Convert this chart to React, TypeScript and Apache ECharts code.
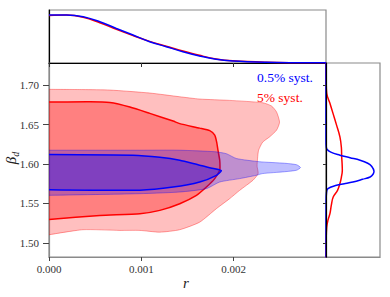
import React, { useEffect, useRef } from "react";
import * as echarts from "echarts";

// ---- Data ----
// Axis ticks
const rTicks = [0, 0.001, 0.002];
const betaTicks = [1.5, 1.55, 1.6, 1.65, 1.7];

// Top marginal: posterior of r
const rGrid = [0, 0.00019, 0.00037, 0.00055, 0.00073, 0.00091, 0.00109, 0.00127, 0.00145, 0.00163, 0.00181, 0.00199, 0.00235, 0.00271, 0.003];
const rBlue = [1.0, 1.0, 0.965, 0.86, 0.72, 0.583, 0.444, 0.34, 0.235, 0.146, 0.077, 0.042, 0.015, 0.006, 0.003];
const rRed = [0.99, 1.0, 0.955, 0.84, 0.7, 0.57, 0.45, 0.35, 0.25, 0.16, 0.085, 0.045, 0.015, 0.006, 0.003];

// Right marginal: posterior of beta_d
const betaGridBlue = [1.7284, 1.6301, 1.6225, 1.6187, 1.6149, 1.6111, 1.6079, 1.6047, 1.6009, 1.5971, 1.5907, 1.5869, 1.5835, 1.5805, 1.5771, 1.5748, 1.5729, 1.5687, 1.5627, 1.5538, 1.4813];
const betaBlue = [0, 0, 0.005, 0.02, 0.1, 0.29, 0.5, 0.71, 0.87, 0.95, 1.0, 0.98, 0.92, 0.76, 0.56, 0.38, 0.22, 0.04, 0.01, 0.003, 0];
const betaGridRed = [1.7284, 1.7065, 1.6896, 1.6772, 1.6641, 1.6492, 1.6343, 1.6212, 1.6089, 1.6009, 1.592, 1.5831, 1.5751, 1.5665, 1.558, 1.5475, 1.5373, 1.5284, 1.5199, 1.5029, 1.4813];
const betaRed = [0, 0.003, 0.015, 0.08, 0.146, 0.22, 0.29, 0.32, 0.327, 0.335, 0.34, 0.32, 0.29, 0.24, 0.15, 0.11, 0.083, 0.04, 0.015, 0.003, 0];

// 2D contours [r, beta_d]
const red95 = [
  [0, 1.6946], [0.000368, 1.6943], [0.000659, 1.6937], [0.001092, 1.6899], [0.001416, 1.6852], [0.001632, 1.6823],
  [0.001957, 1.6806], [0.002314, 1.6776], [0.002411, 1.6734], [0.002465, 1.6658], [0.002497, 1.653], [0.002465, 1.6429],
  [0.002389, 1.6343], [0.002314, 1.6276], [0.00227, 1.6174], [0.002259, 1.6073], [0.002254, 1.5971], [0.002265, 1.5878],
  [0.002209, 1.5793], [0.002065, 1.5665], [0.001957, 1.556], [0.001813, 1.5433], [0.001632, 1.5262], [0.001416, 1.5166],
  [0.0012, 1.5135], [0.000984, 1.5157], [0.000768, 1.5157], [0.000368, 1.5166], [0, 1.5102],
];
const red68 = [
  [0, 1.6785], [0.000443, 1.6789], [0.000659, 1.6778], [0.000876, 1.6721], [0.001092, 1.6641], [0.001344, 1.6544],
  [0.001416, 1.6511], [0.001632, 1.6454], [0.001741, 1.6422], [0.001795, 1.6365], [0.001816, 1.6276], [0.00183, 1.6174],
  [0.001849, 1.6047], [0.001852, 1.5958], [0.001849, 1.592], [0.001795, 1.5814], [0.001705, 1.5707], [0.001597, 1.5602],
  [0.001416, 1.5496], [0.0012, 1.5411], [0.000984, 1.5369], [0.000551, 1.5347], [0, 1.5297],
];
const blue95 = [
  [0, 1.6174], [0.000984, 1.6174], [0.001416, 1.6174], [0.001795, 1.6155], [0.001921, 1.613], [0.002029, 1.6069],
  [0.002281, 1.6028], [0.002551, 1.6009], [0.002681, 1.599], [0.002724, 1.5954], [0.002681, 1.592], [0.002551, 1.5901],
  [0.002314, 1.5878], [0.002245, 1.5856], [0.002065, 1.5814], [0.001849, 1.5771], [0.001705, 1.5687], [0.001416, 1.5644],
  [0.000984, 1.5623], [0, 1.5602],
];
const blue68 = [
  [0, 1.612], [0.000908, 1.6111], [0.0012, 1.6085], [0.001416, 1.6047], [0.001632, 1.5983], [0.001795, 1.5939],
  [0.001867, 1.5915], [0.001813, 1.5856], [0.001632, 1.5771], [0.001344, 1.5707], [0.000984, 1.5668], [0, 1.5674],
];

const SERIF = "Liberation Serif";

function contour(pts: number[][], fill: string, stroke: string, lw: number) {
  return {
    type: "custom",
    xAxisIndex: 1,
    yAxisIndex: 1,
    clip: true,
    silent: true,
    data: [pts[0]],
    renderItem: (_params: any, api: any) => {
      const p = pts.map((q) => api.coord(q));
      const first = p[0];
      const last = p[p.length - 1];
      const closed = [[first[0] - 30, first[1]], ...p, [last[0] - 30, last[1]]];
      return {
        type: "group",
        children: [
          { type: "polygon", shape: { points: closed, smooth: 0.2 }, style: { fill, stroke: "none" } },
          { type: "polyline", shape: { points: p, smooth: 0.2 }, style: { fill: "none", stroke, lineWidth: lw } },
        ],
      };
    },
  };
}

export default function App() {
  const ref = useRef<HTMLDivElement>(null);
  useEffect(() => {
    if (!ref.current) return;
    const chart = echarts.init(ref.current, undefined, { renderer: "svg" });
    const gray = "#8a8a8a";
    const option: any = {
      animation: false,
      backgroundColor: "#fff",
      textStyle: { fontFamily: SERIF },
      grid: [
        { left: 49, top: 10, width: 277, height: 53, show: true, borderColor: gray, borderWidth: 1.2 },
        { left: 49, top: 63, width: 277, height: 194, show: true, borderColor: gray, borderWidth: 1.2 },
        { left: 326, top: 63, width: 54, height: 194, show: true, borderColor: gray, borderWidth: 1.2 },
      ],
      xAxis: [
        {
          gridIndex: 0, type: "value", min: 0, max: 0.003,
          axisLine: { show: true, lineStyle: { color: "#000", width: 1.2 } },
          axisTick: { show: true, length: 4, customValues: rTicks, lineStyle: { color: "#333" } },
          axisLabel: { show: false }, splitLine: { show: false },
        },
        {
          gridIndex: 1, type: "value", min: 0, max: 0.003,
          axisLine: { show: true, lineStyle: { color: gray, width: 1.2 } },
          axisTick: { show: true, length: 4, customValues: rTicks, lineStyle: { color: "#444" } },
          axisLabel: {
            customValues: rTicks, formatter: (v: number) => v.toFixed(3),
            fontFamily: SERIF, fontSize: 11, color: "#333", margin: 6,
          },
          splitLine: { show: false },
        },
        {
          gridIndex: 2, type: "value", min: 0, max: 1.125,
          axisLine: { show: true, lineStyle: { color: gray, width: 1.2 } },
          axisTick: { show: false }, axisLabel: { show: false }, splitLine: { show: false },
        },
      ],
      yAxis: [
        {
          gridIndex: 0, type: "value", min: 0, max: 1.104, position: "right",
          axisLine: { show: true, lineStyle: { color: "#000", width: 1.2 } },
          axisTick: { show: false }, axisLabel: { show: false }, splitLine: { show: false },
        },
        {
          gridIndex: 1, type: "value", min: 1.482, max: 1.728,
          axisLine: { show: true, lineStyle: { color: gray, width: 1.2 } },
          axisTick: { show: true, length: 6, customValues: betaTicks, lineStyle: { color: "#444" } },
          axisLabel: {
            customValues: betaTicks, formatter: (v: number) => v.toFixed(2),
            fontFamily: SERIF, fontSize: 11, color: "#333", margin: 10,
          },
          splitLine: { show: false },
        },
        {
          gridIndex: 2, type: "value", min: 1.482, max: 1.728, z: 5,
          axisLine: { show: true, lineStyle: { color: "#000", width: 1.2 } },
          axisTick: { show: true, length: 3, customValues: betaTicks, lineStyle: { color: "#333" } },
          axisLabel: { show: false }, splitLine: { show: false },
        },
      ],
      series: [
        contour(red95, "rgba(255,0,0,0.25)", "rgba(255,0,0,0.35)", 1),
        contour(red68, "rgba(255,0,0,0.33)", "#ff0000", 1.5),
        contour(blue95, "rgba(0,0,255,0.25)", "rgba(0,0,255,0.35)", 1),
        contour(blue68, "rgba(0,0,255,0.33)", "#0000ff", 1.5),
        {
          type: "line", xAxisIndex: 0, yAxisIndex: 0, symbol: "none", smooth: 0.4,
          data: rGrid.map((r, i) => [r, rRed[i]]),
          lineStyle: { color: "#ff0000", width: 1.5 },
        },
        {
          type: "line", xAxisIndex: 0, yAxisIndex: 0, symbol: "none", smooth: 0.4,
          data: rGrid.map((r, i) => [r, rBlue[i]]),
          lineStyle: { color: "#0000ff", width: 1.5 },
        },
        {
          type: "line", xAxisIndex: 2, yAxisIndex: 2, symbol: "none", smooth: 0.4,
          data: betaGridRed.map((b, i) => [betaRed[i], b]),
          lineStyle: { color: "#ff0000", width: 1.5 },
        },
        {
          type: "line", xAxisIndex: 2, yAxisIndex: 2, symbol: "none", smooth: 0.4,
          data: betaGridBlue.map((b, i) => [betaBlue[i], b]),
          lineStyle: { color: "#0000ff", width: 1.5 },
        },
      ],
      graphic: [
        {
          type: "text", left: 257, top: 70, silent: true,
          style: { text: "0.5% syst.", fill: "#0000ff", fontSize: 13.5, fontFamily: SERIF },
        },
        {
          type: "text", left: 257, top: 90, silent: true,
          style: { text: "5% syst.", fill: "#ff0000", fontSize: 13.5, fontFamily: SERIF },
        },
        {
          type: "text", x: 186, y: 283, silent: true,
          style: { text: "r", fill: "#222", fontSize: 15, fontStyle: "italic", fontFamily: SERIF, align: "center", verticalAlign: "middle" },
        },
        {
          type: "text", x: 11, y: 158, rotation: Math.PI / 2, silent: true,
          style: {
            text: "{a|β}{b|d}", align: "center", verticalAlign: "middle",
            rich: {
              a: { fontSize: 15, fontStyle: "italic", fontFamily: SERIF, fill: "#222", lineHeight: 18, verticalAlign: "middle" },
              b: { fontSize: 10, fontStyle: "italic", fontFamily: SERIF, fill: "#222", lineHeight: 10, verticalAlign: "bottom" },
            },
          },
        },
      ],
    };
    chart.setOption(option);
    return () => chart.dispose();
  }, []);
  return <div ref={ref} style={{ position: "fixed", left: 0, top: 0, width: 390, height: 297 }} />;
}
